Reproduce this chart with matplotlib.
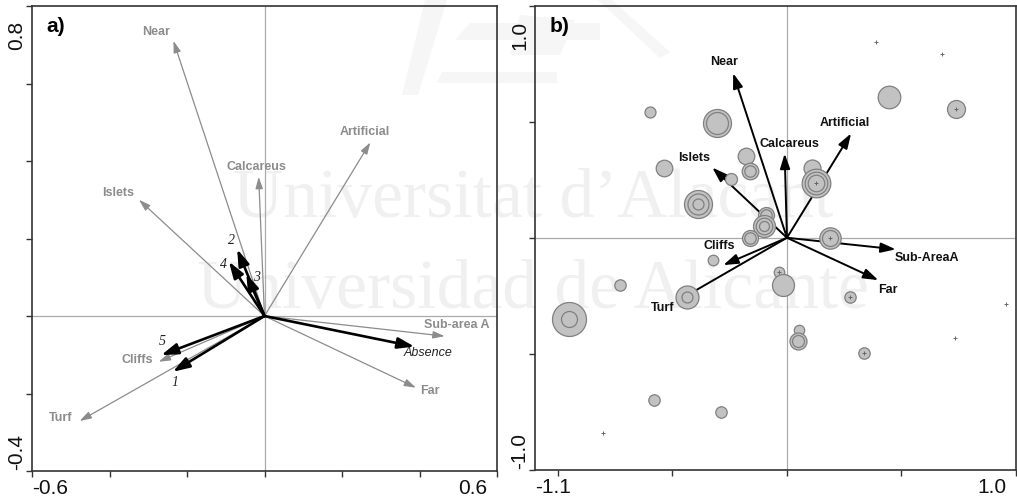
import matplotlib
matplotlib.use('Agg')
import matplotlib.pyplot as plt
from matplotlib.patches import Polygon
import numpy as np

plt.rcParams['font.family'] = ['Liberation Sans', 'DejaVu Sans']

# ---- panel a: environmental variables (grey) and response classes (black)
env_a = ['Near', 'Artificial', 'Calcareus', 'Islets', 'Sub-area A', 'Far', 'Turf', 'Cliffs']
env_a_x = [-0.235, 0.273, -0.015, -0.324, 0.465, 0.391, -0.477, -0.273]
env_a_y = [0.710, 0.448, 0.359, 0.300, -0.052, -0.185, -0.271, -0.118]

resp_a = ['1', '2', '3', '4', '5', 'Absence']
resp_a_x = [-0.2365, -0.0705, -0.047, -0.092, -0.2665, 0.387]
resp_a_y = [-0.144, 0.1725, 0.109, 0.1405, -0.101, -0.079]

# ---- panel b: environmental variables and sites
env_b = ['Near', 'Artificial', 'Calcareus', 'Islets', 'Sub-AreaA', 'Far', 'Turf', 'Cliffs']
env_b_x = [-0.235, 0.280, -0.010, -0.326, 0.475, 0.399, -0.470, -0.278]
env_b_y = [0.710, 0.450, 0.363, 0.303, -0.050, -0.183, -0.268, -0.118]

site_x = [-0.597, -0.307, -0.536, -0.178, -0.162, -0.246, -0.387, 0.110, 0.129,
          -0.093, -0.101, -0.160, 0.187, -0.323, -0.729, -0.033, -0.017, -0.438,
          -0.952, 0.277, 0.054, 0.047, 0.338, -0.582, -0.290, 0.447, 0.740,
          0.387, 0.678, 0.956, 0.733, -0.803]
site_y = [0.544, 0.493, 0.303, 0.354, 0.288, 0.252, 0.145, 0.303, 0.237,
          0.100, 0.049, -0.003, -0.003, -0.095, -0.206, -0.147, -0.206, -0.254,
          -0.349, -0.256, -0.400, -0.446, -0.498, -0.700, -0.750, 0.607, 0.556,
          0.845, 0.795, -0.286, -0.432, -0.844]
# ring sizes (one per sample class at that site), empty = no record
site_rings = [[5.5], [14, 11], [8.3], [8.3], [8.3, 5.7], [6], [14, 10.5, 5.5], [8.5], [14.3, 11.3, 8.3],
              [8, 5.7], [11, 8.3, 5], [8, 5.7], [10.7, 8], [5.3], [5.7], [5.3], [11], [11.5, 5.5],
              [17, 8], [5.7], [5.2], [8.5, 6], [5.7], [5.7], [5.7], [11.3], [9],
              [], [], [], [], []]
site_plus = [0, 0, 0, 0, 0, 0, 0, 0, 1,
             0, 0, 0, 1, 0, 0, 1, 0, 0,
             0, 1, 0, 0, 1, 0, 0, 0, 1,
             1, 1, 1, 1, 1]

# label positions
lab_a = {'Near': (-0.2795, 0.734), 'Artificial': (0.258, 0.474), 'Calcareus': (-0.0215, 0.384),
         'Islets': (-0.3785, 0.3165), 'Sub-area A': (0.495, -0.023), 'Far': (0.428, -0.193),
         'Turf': (-0.526, -0.264), 'Cliffs': (-0.3285, -0.114),
         '1': (-0.230, -0.1725), '2': (-0.086, 0.195), '3': (-0.021, 0.100), '4': (-0.106, 0.132),
         '5': (-0.265, -0.066), 'Absence': (0.423, -0.0965)}
lab_b = {'Near': (-0.274, 0.759), 'Artificial': (0.254, 0.494), 'Calcareus': (0.013, 0.405),
         'Islets': (-0.407, 0.345), 'Sub-AreaA': (0.610, -0.087), 'Far': (0.442, -0.225),
         'Turf': (-0.543, -0.302), 'Cliffs': (-0.296, -0.036)}

W, H = 1017, 501
fig = plt.figure(figsize=(W / 100, H / 100), dpi=100)

# faint watermark (text + logo strokes)
wm = dict(family=['Liberation Serif', 'DejaVu Serif'], fontsize=50, color='#f0f0f0', zorder=-5)
fig.text(233 / W, 1 - 217 / H, 'Universitat d\u2019Alacant', **wm)
fig.text(197 / W, 1 - 308 / H, 'Universidad de Alicante', **wm)
logo = [[(402, 95), (418, 95), (447, 0), (425, 0)],
        [(455, 40), (600, 40), (600, 23), (470, 23)],
        [(437, 83), (557, 83), (557, 72), (442, 72)],
        [(598, 0), (612, 0), (670, 52), (660, 58)],
        [(510, 55), (560, 55), (575, 20), (520, 15)]]
for pts in logo:
    fig.patches.append(Polygon([(px / W, 1 - py / H) for px, py in pts], closed=True,
                               transform=fig.transFigure, facecolor='#f6f6f6',
                               edgecolor='none', zorder=-6))

ax1 = fig.add_axes([32 / W, 30 / H, 465 / W, 465 / H])
ax2 = fig.add_axes([535 / W, 31.5 / H, 481 / W, 463.5 / H])


def arrow(ax, x, y, color, lw, hl, hw, z):
    ax.annotate('', xy=(x, y), xytext=(0, 0), zorder=z,
                arrowprops=dict(arrowstyle='-|>,head_length=%s,head_width=%s' % (hl, hw),
                                color=color, lw=lw, shrinkA=0, shrinkB=0, mutation_scale=10))


def frame(ax, xlim, ylim, xt, yt, xl, yl):
    ax.set_facecolor('none')
    ax.set_xlim(xlim)
    ax.set_ylim(ylim)
    ax.set_xticks(xt)
    ax.set_yticks(yt)
    ax.tick_params(direction='out', length=4, width=1, color='#333333',
                   labelleft=False, labelbottom=False)
    for s in ax.spines.values():
        s.set_color('#333333')
        s.set_linewidth(1.2)
    ax.axhline(0, color='#aaaaaa', lw=0.9, zorder=0)
    ax.axvline(0, color='#aaaaaa', lw=0.9, zorder=0)
    tk = dict(fontsize=15, color='#111111', transform=ax.transAxes)
    ax.text(0.0, -0.018, xl[0], ha='left', va='top', **tk)
    ax.text(0.98, -0.018, xl[1], ha='right', va='top', **tk)
    ax.text(-0.032, 0.967, yl[1], ha='center', va='top', rotation=90, **tk)
    ax.text(-0.032, 0.002, yl[0], ha='center', va='bottom', rotation=90, **tk)


# panel a
frame(ax1, (-0.6, 0.6), (-0.4, 0.8), np.arange(-0.6, 0.61, 0.2), np.arange(-0.4, 0.81, 0.2),
      ('-0.6', '0.6'), ('-0.4', '0.8'))
for n, x, y in zip(env_a, env_a_x, env_a_y):
    arrow(ax1, x, y, '#8c8c8c', 0.9, 0.7, 0.22, 2)
    ax1.text(*lab_a[n], n, ha='center', va='center', fontsize=9, fontweight='bold', color='#8c8c8c')
for n, x, y in zip(resp_a, resp_a_x, resp_a_y):
    arrow(ax1, x, y, 'black', 1.9, 1.0, 0.33, 3)
    if n == 'Absence':
        ax1.text(*lab_a[n], n, ha='center', va='center', fontsize=9, style='italic', color='#222222')
    else:
        ax1.text(*lab_a[n], n, ha='center', va='center', fontsize=10, style='italic',
                 family=['Liberation Serif', 'DejaVu Serif'], color='#222222')
ax1.text(0.03, 0.955, 'a)', transform=ax1.transAxes, fontsize=15, fontweight='bold', va='center')

# panel b
frame(ax2, (-1.1, 1.0), (-1.0, 1.0), [-1.0, -0.5, 0, 0.5, 1.0], [-1.0, -0.5, 0, 0.5, 1.0],
      ('-1.1', '1.0'), ('-1.0', '1.0'))
for n, x, y in zip(env_b, env_b_x, env_b_y):
    arrow(ax2, x, y, 'black', 1.4, 0.9, 0.3, 2)
    ax2.text(*lab_b[n], n, ha='center', va='center', fontsize=9, fontweight='bold', color='#111111')
for x, y, rings, p in zip(site_x, site_y, site_rings, site_plus):
    for r in sorted(rings, reverse=True):
        ax2.scatter(x, y, s=(2 * r * 0.72) ** 2, facecolor='#c2c2c2', edgecolor='#808080',
                    linewidths=0.9, zorder=4)
    if p:
        ax2.plot(x, y, '+', ms=3.5, mew=0.7, color='#666666', zorder=5)
ax2.text(0.03, 0.955, 'b)', transform=ax2.transAxes, fontsize=15, fontweight='bold', va='center')

fig.savefig('out.png', dpi=100)
